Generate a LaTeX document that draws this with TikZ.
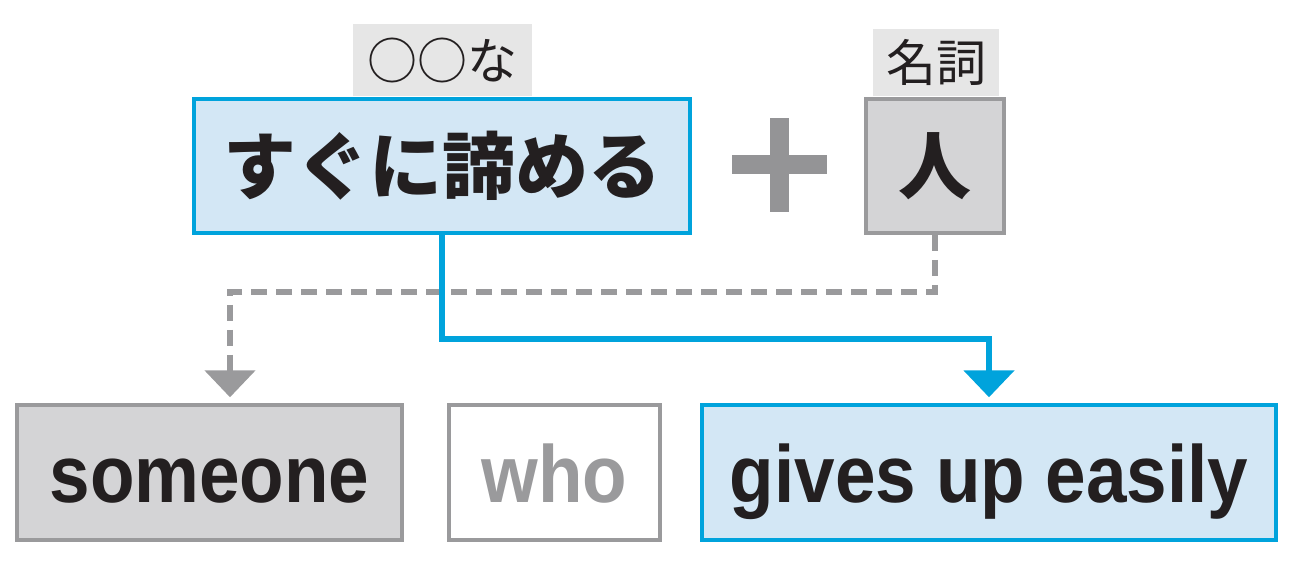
\documentclass[tikz,border=0pt]{standalone}
\usepackage{fontspec}
\usetikzlibrary{arrows.meta}
\newfontfamily\jp{Noto Sans CJK JP}
\newfontfamily\latinb[FakeStretch=0.9]{Liberation Sans Bold}
\definecolor{cblue}{HTML}{00A3DC}
\definecolor{lblue}{HTML}{D3E7F5}
\definecolor{gline}{HTML}{9A9A9C}
\definecolor{gfill}{HTML}{D4D4D6}
\definecolor{lbg}{HTML}{E6E6E6}
\definecolor{txt}{HTML}{231F20}
\definecolor{plusc}{HTML}{949496}
\tikzset{
  bluebox/.style={draw=cblue, line width=1.75pt, fill=lblue, inner sep=0pt, text=txt},
  graybox/.style={draw=gline, line width=1.75pt, fill=gfill, inner sep=0pt, text=txt},
  whitebox/.style={draw=gline, line width=1.6pt, fill=white, inner sep=0pt, text=gline},
  tag/.style={fill=lbg, inner sep=0pt, text=txt, font=\jp\fontsize{25}{25}\selectfont},
  jpbig/.style={font=\jp\bfseries\fontsize{36.5}{36.5}\selectfont},
  enbig/.style={font=\latinb\fontsize{40.5}{40.5}\selectfont, text height=35pt, text depth=5.5pt},
  blueconn/.style={draw=cblue, line width=3pt, -{Triangle[width=25pt,length=13.5pt]}, shorten >=3pt},
  grayconn/.style={draw=gline, line width=2.8pt, dash pattern=on 8pt off 4.5pt, -{Triangle[width=25pt,length=13.5pt]}, shorten >=3pt}
}
\begin{document}
\begin{tikzpicture}[x=0.5pt,y=-0.5pt]
\useasboundingbox (0,0) rectangle (1300,562);
% tags
\node[tag, minimum width=89.5pt, minimum height=36pt] (tag1) at (442.5,60) {○○な};
\node[tag, minimum width=63pt, minimum height=33.5pt] (tag2) at (936,62.5) {名詞};
% top boxes
\node[bluebox, jpbig, minimum width=248pt, minimum height=67pt] (top) at (442,166) {すぐに諦める};
\node[graybox, jpbig, minimum width=69pt, minimum height=67pt] (ren) at (935,166) {人};
% plus sign
\fill[plusc] (732,155) rectangle (827,174);
\fill[plusc] (770,118) rectangle (789,212);
% bottom boxes
\node[graybox, enbig, minimum width=192.5pt, minimum height=67.5pt] (someone) at (209.5,472.5) {someone};
\node[whitebox, enbig, minimum width=105.5pt, minimum height=67.5pt] (who) at (554.5,472.5) {who};
\node[bluebox, enbig, minimum width=287pt, minimum height=67.5pt] (gives) at (989,472.5) {gives up easily};
% connectors
\draw[grayconn] (ren.south) -- ++(0,57) -| ([xshift=10.25pt]someone.north);
\draw[blueconn] (top.south) -- ++(0,104) -| (gives.north);
\end{tikzpicture}
\end{document}
